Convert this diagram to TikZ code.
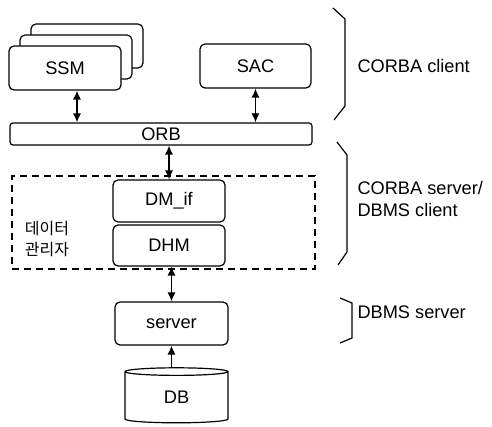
\documentclass[tikz,border=0pt]{standalone}
\usepackage{fontspec}
\setmainfont{Liberation Sans}
\newfontfamily\kofont{Noto Sans CJK KR}
\usetikzlibrary{arrows.meta,shapes.geometric}

\begin{document}
\begin{tikzpicture}[x=1pt, y=-1pt,
    font=\fontsize{18.2}{21.5}\selectfont,
    box/.style={draw, line width=1.2pt, rounded corners=5pt, fill=white, inner sep=0pt},
    link/.style={line width=1.2pt, {Latex[length=9pt,width=8pt]}-{Latex[length=9pt,width=8pt]}},
    uplink/.style={line width=1.2pt, -{Latex[length=9pt,width=8pt]}},
    bracket/.style={line width=1.2pt}]
    \useasboundingbox (0,0) rectangle (492,427);

    % CORBA clients: stacked SSM boxes and SAC
    \node[box, minimum width=112pt, minimum height=44pt] (ssmc) at (87,46) {};
    \node[box, minimum width=112pt, minimum height=44pt] (ssmb) at (76,57) {};
    \node[box, minimum width=112pt, minimum height=44pt] (ssm) at (65,68) {SSM};
    \node[box, minimum width=111pt, minimum height=44pt] (sac) at (255.5,66) {SAC};

    % ORB bar
    \node[box, rounded corners=3pt, minimum width=302pt, minimum height=22pt] (orb) at (161,134) {ORB};

    % data manager (dashed) with DM_if and DHM
    \node[draw, dashed, dash pattern=on 7pt off 5pt, line width=1.2pt, minimum width=303pt, minimum height=93pt] (dmgr) at (163.5,222.5) {};
    \node[box, minimum width=112pt, minimum height=42pt] (dmif) at (169,201) {DM\_if};
    \node[box, minimum width=112pt, minimum height=41pt] (dhm) at (169,245.5) {DHM};
    \node[align=left, font=\kofont\fontsize{16}{20.5}\selectfont] (dmlbl) at (47,239) {데이터\\관리자};

    % DBMS server and database
    \node[box, minimum width=113pt, minimum height=43pt] (server) at (171.5,323.5) {server};
    \node[draw, line width=1.2pt, cylinder, shape border rotate=90, aspect=0.3,
          minimum width=103pt, minimum height=55pt, inner sep=0pt] (db) at (176.5,397.5) {DB};

    % links
    \coordinate (ssmlink) at (77,0);
    \draw[link] (ssm.south -| ssmlink) -- (orb.north -| ssmlink);
    \draw[link] (sac.south) -- (sac.south |- orb.north);
    \draw[link] (orb.south -| dmif.north) -- (dmif.north);
    \draw[link] (dhm.south -| server.north) -- (server.north);
    \draw[uplink] (db.north -| server.south) -- (server.south);

    % brackets and tier labels
    \draw[bracket] (333,8) -- (345,19) -- (345,106) -- (334,120);
    \draw[bracket] (337,142) -- (347,155) -- (347,252) -- (338,265);
    \draw[bracket] (340,298) -- (352,303) -- (352,338) -- (340,343);
    \node[anchor=west] (clientlbl) at (354,66) {CORBA client};
    \node[anchor=west, align=left] (midlbl) at (354,199) {CORBA server/\\DBMS client};
    \node[anchor=west] (dbmslbl) at (354,312) {DBMS server};
\end{tikzpicture}
\end{document}
